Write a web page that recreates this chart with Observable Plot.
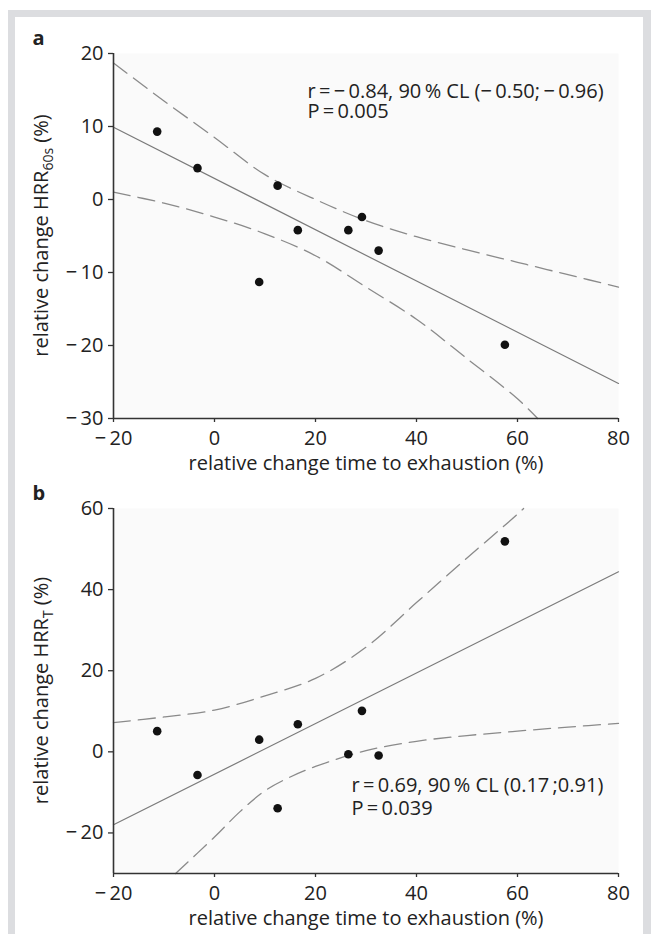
<!DOCTYPE html>
<html><head><meta charset="utf-8">
<script src="https://cdn.jsdelivr.net/npm/d3@7"></script>
<script src="https://cdn.jsdelivr.net/npm/@observablehq/plot@0.6"></script>
<style>
html,body{margin:0;padding:0;background:#fff;}
#wrap{position:relative;width:651px;height:934px;overflow:hidden;background:#fff;font-family:"Open Sans",sans-serif;}
#frame{position:absolute;left:8px;top:10px;width:643px;height:960px;box-sizing:border-box;border:7px solid #dcdde0;border-right-width:8px;border-bottom:none;}
.panel{position:absolute;left:0;}
</style></head><body><div id="wrap"><div id="frame"></div></div>
<script>
// subjects' relative change in time to exhaustion (%)
const timeChange = [-11.35, -3.37, 8.85, 12.5, 16.5, 26.5, 29.2, 32.5, 57.5];
// panel a: relative change HRR60s (%)
const hrr60sChange = [9.3, 4.3, -11.3, 1.9, -4.2, -4.2, -2.4, -7.0, -19.9];
// panel b: relative change HRR_T (%)
const hrrTChange = [5.1, -5.7, 3.0, -13.9, 6.8, -0.6, 10.1, -0.9, 51.9];

// regression lines (read at the x-range ends)
const fitX = [-20, 80];
const fitA = [9.9, -25.2];
const fitB = [-18.0, 44.4];

// 90% confidence bands
const ciAUpperX = [-20, -10, 0, 10, 20, 30, 40, 50, 60, 70, 80];
const ciAUpper  = [18.7, 13.5, 8.5, 3.4, 0, -2.9, -5.1, -6.9, -8.6, -10.3, -12.0];
const ciALowerX = [-20, -10, 0, 10, 20, 30, 40, 50, 60, 64];
const ciALower  = [1.0, -0.5, -2.4, -4.7, -7.7, -12.0, -16.4, -21.8, -27.3, -30];
const ciBUpperX = [-20, -10, 0, 10, 20, 30, 40, 50, 60, 61.2];
const ciBUpper  = [7.2, 8.6, 10.3, 13.8, 18.1, 25.8, 36.8, 47.8, 58.6, 60];
const ciBLowerX = [-7.7, 0, 5, 10, 15, 20, 30, 40, 50, 60, 70, 80];
const ciBLower  = [-30, -21.0, -14.8, -9.6, -6.2, -3.6, 0.3, 2.6, 4.0, 5.1, 6.1, 7.0];

const xTicks = [-20, 0, 20, 40, 60, 80];
const yTicksA = [-30, -20, -10, 0, 10, 20];
const yTicksB = [-20, 0, 20, 40, 60];
const xLabel = "relative change time to exhaustion (%)";
const statsA = ["r\u2009=\u2009−\u20090.84, 90\u2009% CL (−\u20090.50;\u2009−\u20090.96)", "P\u2009=\u20090.005"];
const statsB = ["r\u2009=\u20090.69, 90\u2009% CL (0.17\u2009;0.91)", "P\u2009=\u20090.039"];

const FONT = "'Open Sans', sans-serif";
const TXT = "#222";
const FS = 20;
const zip = (xs, ys) => xs.map((x, i) => ({x, y: ys[i]}));
const fmt = d => d < 0 ? "−\u2009" + Math.abs(d) : String(d);

function panel({ys, yDomain, yTicks, fitY, up, upX, lo, loX, stats, statsDx, statsDy, statsGap, letter, sub, top}) {
  const H = 475, mt = 53, mb = 57;
  const svg = Plot.plot({
    width: 651, height: H,
    marginLeft: 113, marginRight: 33, marginTop: mt, marginBottom: mb,
    style: {background: "transparent", fontFamily: FONT, fontSize: FS + "px", color: TXT, overflow: "visible"},
    x: {domain: [-20, 80], label: null},
    y: {domain: yDomain, label: null},
    marks: [
      Plot.frame({fill: "#fafafa", stroke: null}),
      Plot.line(zip(upX, up), {x: "x", y: "y", stroke: "#8a8a8a", strokeWidth: 1.3, strokeDasharray: "17,8", curve: "catmull-rom"}),
      Plot.line(zip(loX, lo), {x: "x", y: "y", stroke: "#8a8a8a", strokeWidth: 1.3, strokeDasharray: "17,8", curve: "catmull-rom"}),
      Plot.line(zip(fitX, fitY), {x: "x", y: "y", stroke: "#7a7a7a", strokeWidth: 1.2}),
      Plot.dot(zip(timeChange, ys), {x: "x", y: "y", r: 4.3, fill: "#111", stroke: null}),
      Plot.ruleX([-20], {stroke: "#333", strokeWidth: 1.6}),
      Plot.ruleY([yDomain[0]], {stroke: "#333", strokeWidth: 1.6}),
      Plot.axisX({ticks: xTicks, tickFormat: fmt, tickSize: 4, tickPadding: 8, stroke: "#333", strokeWidth: 1.3, fill: TXT, fontSize: FS}),
      Plot.axisY({ticks: yTicks, tickFormat: fmt, tickSize: 5, tickPadding: 5, stroke: "#333", strokeWidth: 1.3, fill: TXT, fontSize: FS}),
      Plot.text([xLabel], {frameAnchor: "bottom", dy: 45, lineAnchor: "middle", fill: TXT, fontSize: FS}),
      Plot.text([stats[0]], {frameAnchor: "top-left", dx: statsDx, dy: statsDy, lineAnchor: "top", textAnchor: "start", fill: TXT, fontSize: FS}),
      Plot.text([stats[1]], {frameAnchor: "top-left", dx: statsDx, dy: statsDy + statsGap, lineAnchor: "top", textAnchor: "start", fill: TXT, fontSize: FS}),
      Plot.text([letter], {frameAnchor: "top-left", dx: -81, dy: -9, lineAnchor: "bottom", textAnchor: "start", fill: TXT, fontSize: 20, fontWeight: "bold"})
    ]
  });
  const s = d3.select(svg);
  const t = s.append("text")
    .attr("transform", `translate(48, ${mt + (H - mt - mb) / 2}) rotate(-90)`)
    .attr("text-anchor", "middle")
    .attr("fill", TXT)
    .attr("font-family", FONT)
    .attr("font-size", FS);
  t.append("tspan").text("relative change HRR");
  t.append("tspan").attr("font-size", 14).attr("dy", 5).text(sub);
  t.append("tspan").attr("dy", -5).text(" (%)");
  svg.classList.add("panel");
  svg.style.top = top + "px";
  svg.style.position = "absolute";
  document.getElementById("wrap").appendChild(svg);
}

panel({ys: hrr60sChange, yDomain: [-30, 20], yTicks: yTicksA, fitY: fitA,
  up: ciAUpper, upX: ciAUpperX, lo: ciALower, loX: ciALowerX,
  stats: statsA, statsDx: 194, statsDy: 30, statsGap: 20, letter: "a", sub: "60s", top: 0});
panel({ys: hrrTChange, yDomain: [-30, 60], yTicks: yTicksB, fitY: fitB,
  up: ciBUpper, upX: ciBUpperX, lo: ciBLower, loX: ciBLowerX,
  stats: statsB, statsDx: 238, statsDy: 269, statsGap: 23, letter: "b", sub: "T", top: 455});
</script></body></html>
